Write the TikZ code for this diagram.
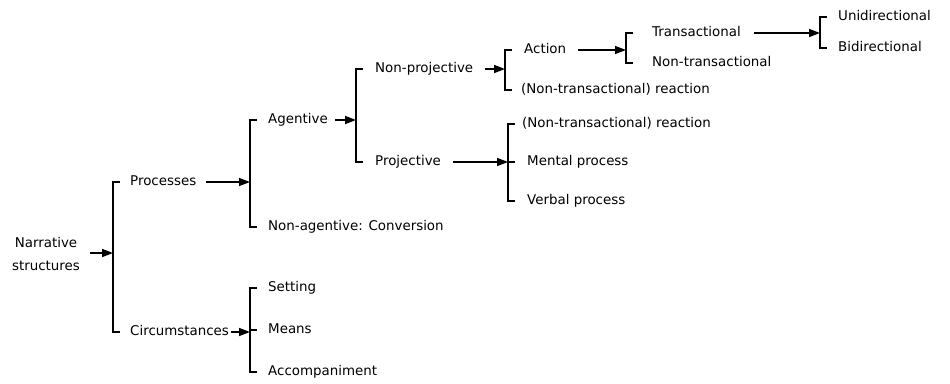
\documentclass[tikz,border=0pt]{standalone}
\usepackage{fontspec}
\setmainfont{DejaVu Sans}
\usetikzlibrary{arrows.meta}
\begin{document}
\begin{tikzpicture}[x=1pt,y=-1pt,
  lbl/.style={anchor=west,inner sep=0pt,font=\fontsize{13.4}{16}\selectfont,text height=10pt,text depth=3pt},
  brk/.style={line width=1.5pt},
  arr/.style={line width=1.5pt,-{Triangle[length=11pt,width=8pt]}}]
\useasboundingbox (0,0) rectangle (950,383);
% labels
\node[inner sep=0pt,align=center,font=\fontsize{13.4}{23}\selectfont] (ns) at (46,254) {Narrative\\structures};
\node[lbl] (proc) at (130,182) {Processes};
\node[lbl] (circ) at (130,332) {Circumstances};
\node[lbl] (agen) at (268,120) {Agentive};
\node[lbl] (nonag) at (268,227) {Non-agentive: Conversion};
\node[lbl] (sett) at (268,288) {Setting};
\node[lbl] (means) at (268,330) {Means};
\node[lbl] (accomp) at (268,372) {Accompaniment};
\node[lbl] (nonproj) at (375,69) {Non-projective};
\node[lbl] (proj) at (375,162) {Projective};
\node[lbl] (action) at (524,50) {Action};
\node[lbl] (react1) at (521,90) {(Non-transactional) reaction};
\node[lbl] (trans) at (652,33) {Transactional};
\node[lbl] (nontrans) at (652,63) {Non-transactional};
\node[lbl] (uni) at (838,17) {Unidirectional};
\node[lbl] (bi) at (838,48) {Bidirectional};
\node[lbl] (react2) at (522,124) {(Non-transactional) reaction};
\node[lbl] (mental) at (527,162) {Mental process};
\node[lbl] (verbal) at (527,201) {Verbal process};
% bracket joints
\coordinate (b1) at (113,253);
\coordinate (b2) at (250,182);
\coordinate (b8) at (250,332);
\coordinate (b3) at (356,120);
\coordinate (b4) at (505,69);
\coordinate (b7) at (508,162);
\coordinate (b5) at (626,50);
\coordinate (b6) at (820,33);
% brackets
\draw[brk] (b1 |- proc) ++(7,0) -- (b1 |- proc) -- (b1 |- circ) -- ++(7,0);
\draw[brk] (b2 |- agen) ++(7,0) -- (b2 |- agen) -- (b2 |- nonag) -- ++(7,0);
\draw[brk] (b8 |- sett) ++(7,0) -- (b8 |- sett) -- (b8 |- accomp) -- ++(7,0);
\draw[brk] (b8 |- means) -- ++(7,0);
\draw[brk] (b3 |- nonproj) ++(7,0) -- (b3 |- nonproj) -- (b3 |- proj) -- ++(7,0);
\draw[brk] (b4 |- action) ++(7,0) -- (b4 |- action) -- (b4 |- react1) -- ++(7,0);
\draw[brk] (b7 |- react2) ++(7,0) -- (b7 |- react2) -- (b7 |- verbal) -- ++(7,0);
\draw[brk] (b7 |- mental) -- ++(7,0);
\draw[brk] (b5 |- trans) ++(7,0) -- (b5 |- trans) -- (b5 |- nontrans) -- ++(7,0);
\draw[brk] (b6 |- uni) ++(7,0) -- (b6 |- uni) -- (b6 |- bi) -- ++(7,0);
% arrows
\draw[arr] ([xshift=10pt]ns.east |- b1) -- (b1);
\draw[arr] ([xshift=10pt]proc.east) -- (b2);
\draw[arr] ([xshift=2pt]circ.east) -- (b8);
\draw[arr] ([xshift=7pt]agen.east) -- (b3);
\draw[arr] ([xshift=12pt]nonproj.east) -- (b4);
\draw[arr] ([xshift=12pt]proj.east) -- (b7);
\draw[arr] ([xshift=12pt]action.east) -- (b5);
\draw[arr] ([xshift=13pt]trans.east) -- (b6);
\end{tikzpicture}
\end{document}
